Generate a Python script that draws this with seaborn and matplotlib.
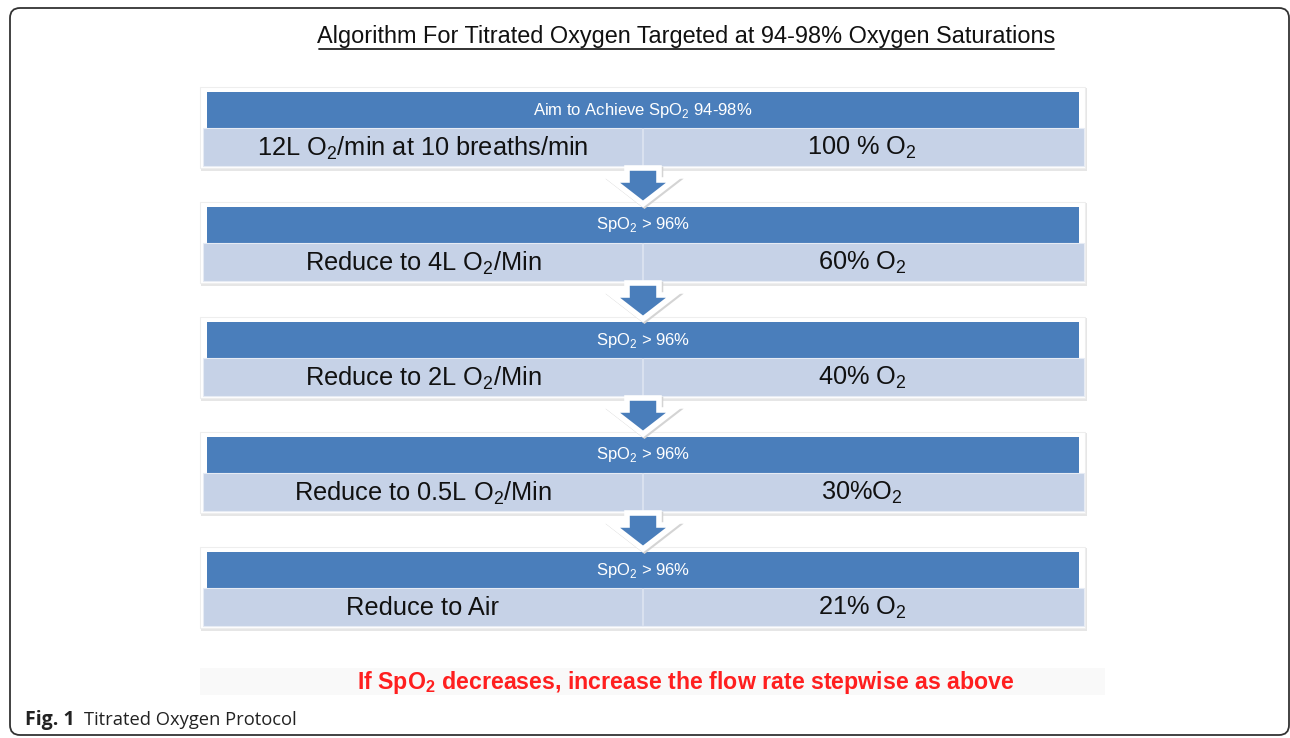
import matplotlib
matplotlib.use("Agg")
import matplotlib.pyplot as plt
import seaborn as sns
from matplotlib.patches import Rectangle, Polygon, FancyBboxPatch

# Flowchart content
headers = ["Aim to Achieve SpO$_2$ 94-98%", "SpO$_2$ > 96%", "SpO$_2$ > 96%",
           "SpO$_2$ > 96%", "SpO$_2$ > 96%"]
flow_labels = ["12L O$_2$/min at 10 breaths/min", "Reduce to 4L O$_2$/Min",
               "Reduce to 2L O$_2$/Min", "Reduce to 0.5L O$_2$/Min", "Reduce to Air"]
oxygen_labels = ["100 % O$_2$", "60% O$_2$", "40% O$_2$", "30%O$_2$", "21% O$_2$"]
title = "Algorithm For Titrated Oxygen Targeted at 94-98% Oxygen Saturations"
note = "If SpO$_\\mathbf{2}$ decreases, increase the flow rate stepwise as above"

sns.set_theme(style="white")
plt.rcParams["font.family"] = ["Liberation Sans", "DejaVu Sans"]
plt.rcParams["mathtext.fontset"] = "custom"
plt.rcParams["mathtext.rm"] = "Liberation Sans"
plt.rcParams["mathtext.bf"] = "Liberation Sans:bold"

dark = "#4a7ebb"
light = "#c6d2e7"
W, H = 1290, 738

fig = plt.figure(figsize=(12.9, 7.38), dpi=100)
ax = fig.add_axes([0, 0, 1, 1])
ax.set_xlim(0, W)
ax.set_ylim(H, 0)
ax.axis("off")

# outer rounded border
ax.add_patch(FancyBboxPatch((10, 8), 1279, 727, boxstyle="round,pad=0,rounding_size=10",
                            fill=False, ec="#333333", lw=1.3))

# title with underline
ax.text(686, 37, title, ha="center", va="center", fontsize=16.9, color="#111111")
ax.plot([319, 1054], [49, 49], color="#222222", lw=1.3)

cx, x0, x1 = 643, 203, 1084
step = 115
for i, (hd, left, right) in enumerate(zip(headers, flow_labels, oxygen_labels)):
    top = 92 + i * step
    # soft shadow and white card
    ax.add_patch(Rectangle((x0 - 2, top - 4), x1 - x0 + 5, 83, fc="#e6e6e6", ec="none"))
    ax.add_patch(Rectangle((x0 - 3, top - 5), x1 - x0 + 4, 81, fc="white", ec="#eeeeee", lw=0.8))
    # header bar
    ax.add_patch(Rectangle((207, top), 872, 36, fc=dark, ec="none"))
    ax.text(cx, top + 18, hd, ha="center", va="center", fontsize=12, color="white")
    # light row
    ax.add_patch(Rectangle((x0, top + 36), x1 - x0, 38, fc=light, ec="#e6ebf4", lw=0.8))
    ax.plot([cx, cx], [top + 37, top + 73], color="#d9e1ef", lw=1.5)
    ax.text(423, top + 56, left, ha="center", va="center", fontsize=18.3, color="#111111")
    ax.text(862, top + 56, right, ha="center", va="center", fontsize=18.3, color="#111111")
    # arrow to the next step
    if i < len(headers) - 1:
        a = top + 74
        pts = [(627, a + 2), (659, a + 2), (659, a + 14), (674, a + 14), (643, a + 38),
               (612, a + 14), (627, a + 14)]
        shadow = [(x + 1.5, y + 1.5) for x, y in pts]
        ax.add_patch(Polygon(shadow, closed=True, fc="#d4d4d4", ec="#d4d4d4", lw=4,
                             joinstyle="miter", zorder=3))
        ax.add_patch(Polygon(pts, closed=True, fc=dark, ec="white", lw=4,
                             joinstyle="miter", zorder=4))

# faint band behind the note
ax.add_patch(Rectangle((200, 668), 905, 27, fc="#f9f9f9", ec="none"))
ax.text(686, 683, note, ha="center", va="center", fontsize=16.7, color="#ff1f1f",
        fontweight="bold")

# caption
ax.text(25, 720, "Fig. 1", ha="left", va="center", fontsize=14, fontweight="bold",
        color="#222222", family=["Open Sans", "DejaVu Sans"])
ax.text(84, 720, "Titrated Oxygen Protocol", ha="left", va="center", fontsize=13.2,
        color="#222222", family=["Open Sans", "DejaVu Sans"])

fig.savefig("out.png", dpi=100)
